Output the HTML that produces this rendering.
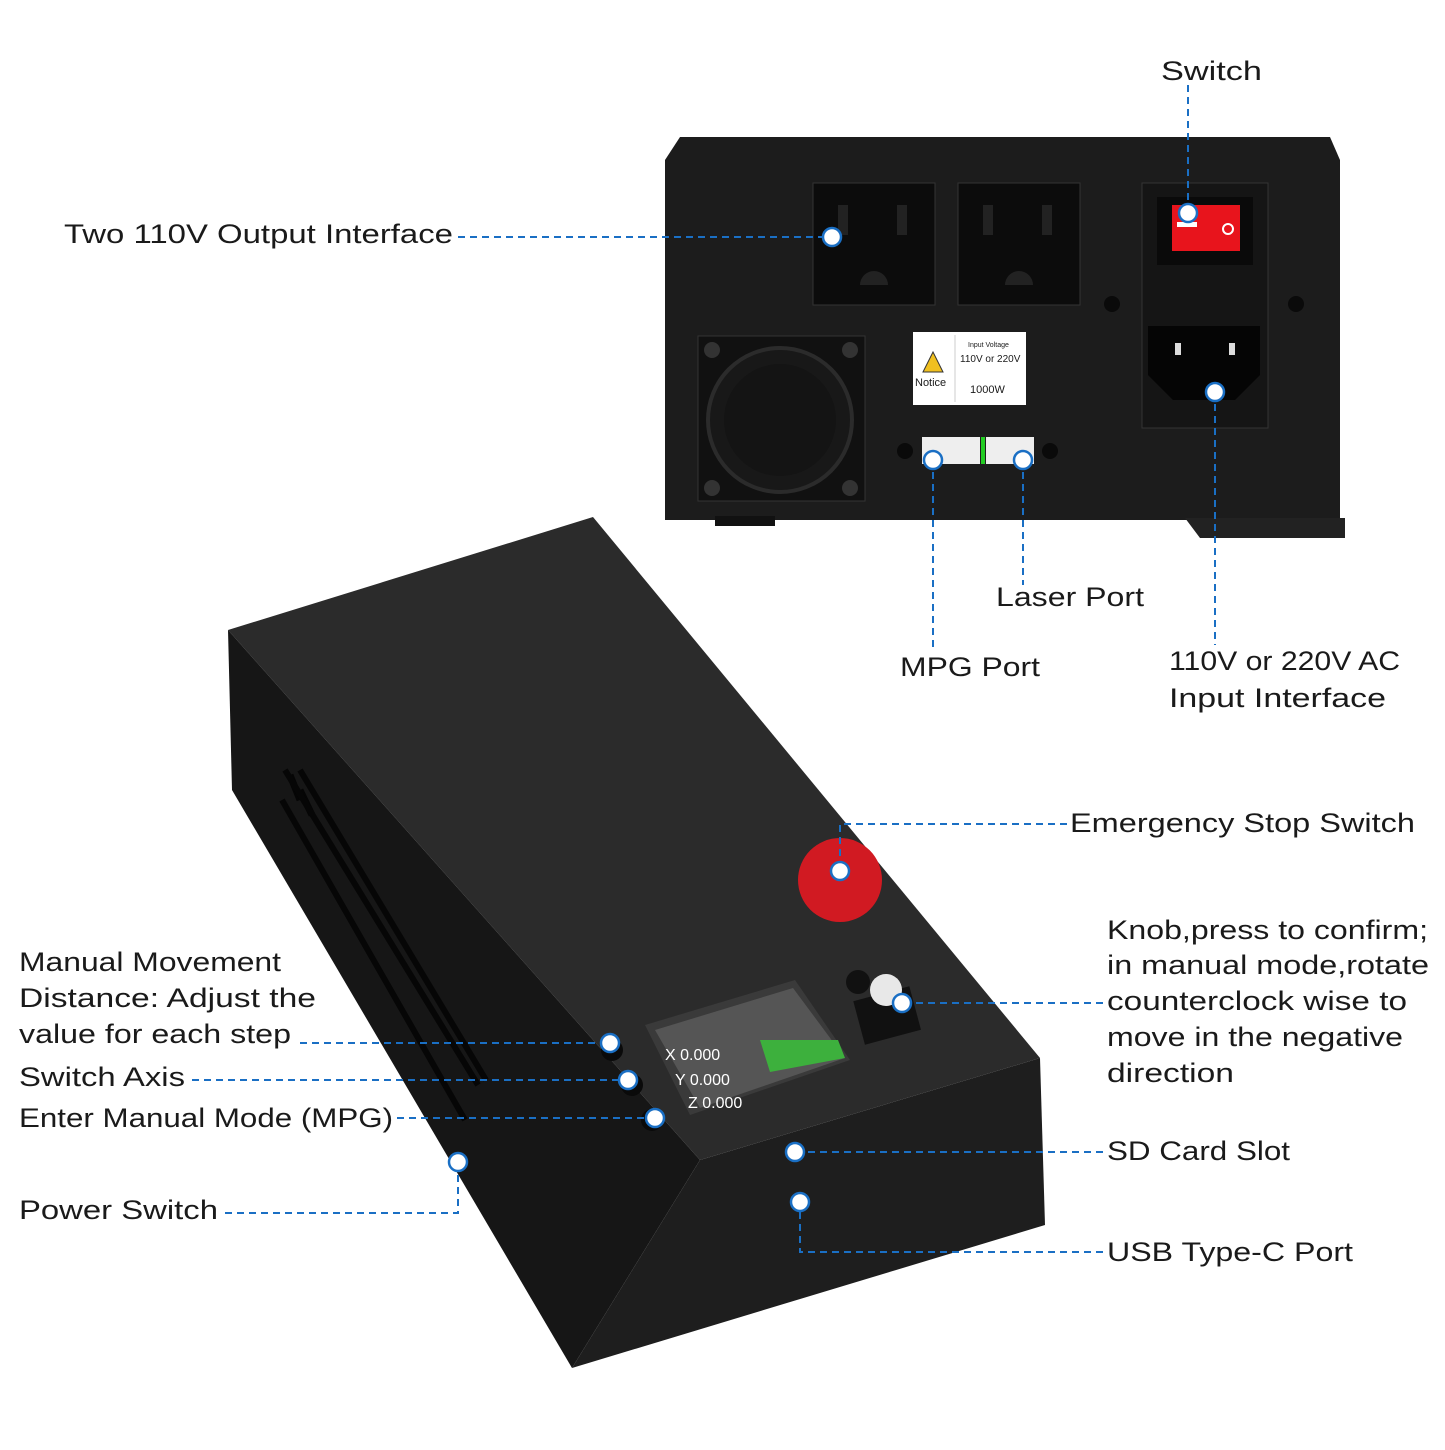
<!DOCTYPE html>
<html><head><meta charset="utf-8"><style>
html,body{margin:0;padding:0;background:#fff}
svg text{font-family:"Liberation Sans",sans-serif;font-size:27px;fill:#1a1a1a}
</style></head><body>
<svg width="1445" height="1445" viewBox="0 0 1445 1445" xmlns="http://www.w3.org/2000/svg">
<rect width="1445" height="1445" fill="#fff"/>
<!-- rear panel box -->
<path d="M680 137 L1330 137 L1340 160 L1340 520 L665 520 L665 160 Z" fill="#1c1c1c"/>
<path d="M1185 518 L1345 518 L1345 538 L1200 538 Z" fill="#222"/>
<rect x="715" y="516" width="60" height="10" fill="#111"/>
<rect x="813" y="183" width="122" height="122" fill="#0c0c0c" stroke="#333"/>
<rect x="958" y="183" width="122" height="122" fill="#0c0c0c" stroke="#333"/>
<rect x="838" y="205" width="10" height="30" fill="#222"/><rect x="897" y="205" width="10" height="30" fill="#222"/>
<rect x="983" y="205" width="10" height="30" fill="#222"/><rect x="1042" y="205" width="10" height="30" fill="#222"/>
<path d="M860 285 a14 14 0 0 1 28 0 Z" fill="#222"/><path d="M1005 285 a14 14 0 0 1 28 0 Z" fill="#222"/>
<rect x="1142" y="183" width="126" height="245" fill="#151515" stroke="#333"/>
<rect x="1157" y="197" width="96" height="68" fill="#0a0a0a"/>
<rect x="1172" y="205" width="68" height="46" fill="#e8141c"/>
<rect x="1177" y="222" width="20" height="5" fill="#fff"/><circle cx="1228" cy="229" r="5" fill="none" stroke="#fff" stroke-width="2"/>
<path d="M1148 326 L1260 326 L1260 375 L1235 400 L1173 400 L1148 375 Z" fill="#050505"/>
<rect x="1175" y="343" width="6" height="12" fill="#ddd"/><rect x="1229" y="343" width="6" height="12" fill="#ddd"/>
<rect x="698" y="336" width="167" height="165" fill="#111" stroke="#333"/>
<circle cx="780" cy="420" r="72" fill="#181818" stroke="#2b2b2b" stroke-width="4"/>
<circle cx="780" cy="420" r="56" fill="#141414"/>
<g fill="#333"><circle cx="712" cy="350" r="8"/><circle cx="850" cy="350" r="8"/><circle cx="712" cy="488" r="8"/><circle cx="850" cy="488" r="8"/></g>
<rect x="913" y="332" width="113" height="73" fill="#fff"/>
<line x1="955" y1="335" x2="955" y2="402" stroke="#ccc"/>
<text x="915" y="386" style="font-size:11px">Notice</text>
<text x="960" y="362" style="font-size:10px">110V or 220V</text>
<text x="970" y="393" style="font-size:11px">1000W</text>
<text x="968" y="347" style="font-size:7px">Input Voltage</text>
<path d="M933 352 L923 372 L943 372 Z" fill="#f0c020" stroke="#333"/>
<rect x="922" y="437" width="58" height="27" fill="#eee"/><rect x="986" y="437" width="48" height="27" fill="#eee"/>
<rect x="981" y="437" width="4" height="27" fill="#2c2"/>
<circle cx="905" cy="451" r="8" fill="#0a0a0a"/><circle cx="1050" cy="451" r="8" fill="#0a0a0a"/>
<circle cx="1112" cy="304" r="8" fill="#0a0a0a"/><circle cx="1296" cy="304" r="8" fill="#0a0a0a"/>
<!-- controller box -->
<path d="M228 630 L593 517 L1040 1058 L700 1160 Z" fill="#2b2b2b"/>
<path d="M228 630 L700 1160 L572 1368 L232 790 Z" fill="#161616"/>
<path d="M700 1160 L1040 1058 L1045 1225 L572 1368 Z" fill="#1e1e1e"/>
<g stroke="#050505" stroke-width="7">
<line x1="290" y1="775" x2="300" y2="800"/><line x1="300" y1="790" x2="312" y2="815"/>
</g>
<g stroke="#060606" stroke-width="6">
<path d="M285 770 L478 1085 M300 770 L486 1080 M282 800 L465 1120"/>
</g>
<circle cx="840" cy="880" r="42" fill="#d11a22"/>
<path d="M645 1025 L795 980 L850 1060 L690 1115 Z" fill="#3a3a3a"/>
<path d="M655 1030 L793 988 L845 1058 L700 1108 Z" fill="#555"/>
<path d="M760 1040 L838 1040 L845 1058 L770 1072 Z" fill="#3db03d"/>
<text x="665" y="1060" style="font-size:16px;fill:#fff">X 0.000</text>
<text x="675" y="1085" style="font-size:16px;fill:#fff">Y 0.000</text>
<text x="688" y="1108" style="font-size:16px;fill:#fff">Z 0.000</text>
<rect x="858" y="993" width="58" height="45" fill="#111" transform="rotate(-15 887 1015)"/>
<circle cx="886" cy="990" r="16" fill="#e8e8e8"/><circle cx="858" cy="982" r="12" fill="#111"/>
<circle cx="612" cy="1050" r="11" fill="#0a0a0a"/><circle cx="632" cy="1085" r="11" fill="#0a0a0a"/><circle cx="652" cy="1120" r="11" fill="#0a0a0a"/>
<!-- callouts -->
<g fill="none" stroke="#1a6fc4" stroke-width="2" stroke-dasharray="7 5">
<path d="M458 237 H832"/>
<path d="M1188 85 V213"/>
<path d="M933 460 V650"/>
<path d="M1023 460 V585"/>
<path d="M1215 392 V645"/>
<path d="M1067 824 H840 V870"/>
<path d="M1103 1003 H902"/>
<path d="M300 1043 H610"/>
<path d="M192 1080 H628"/>
<path d="M397 1118 H655"/>
<path d="M225 1213 H458 V1162"/>
<path d="M1103 1152 H795"/>
<path d="M1103 1252 H800 V1202"/>
</g>
<g fill="#fff" stroke="#1a6fc4" stroke-width="2.5">
<circle cx="832" cy="237" r="9"/><circle cx="1188" cy="213" r="9"/><circle cx="933" cy="460" r="9"/>
<circle cx="1023" cy="460" r="9"/><circle cx="1215" cy="392" r="9"/><circle cx="840" cy="871" r="9"/>
<circle cx="902" cy="1003" r="9"/><circle cx="610" cy="1043" r="9"/><circle cx="628" cy="1080" r="9"/>
<circle cx="655" cy="1118" r="9"/><circle cx="458" cy="1162" r="9"/><circle cx="795" cy="1152" r="9"/>
<circle cx="800" cy="1202" r="9"/>
</g>
<g>
<text x="1161" y="80" textLength="101" lengthAdjust="spacingAndGlyphs">Switch</text>
<text x="64" y="243" textLength="389" lengthAdjust="spacingAndGlyphs">Two 110V Output Interface</text>
<text x="996" y="606" textLength="148" lengthAdjust="spacingAndGlyphs">Laser Port</text>
<text x="900" y="676" textLength="140" lengthAdjust="spacingAndGlyphs">MPG Port</text>
<text x="1169" y="670" textLength="231" lengthAdjust="spacingAndGlyphs">110V or 220V AC</text>
<text x="1169" y="707" textLength="217" lengthAdjust="spacingAndGlyphs">Input Interface</text>
<text x="1070" y="832" textLength="345" lengthAdjust="spacingAndGlyphs">Emergency Stop Switch</text>
<text x="1107" y="939" textLength="321" lengthAdjust="spacingAndGlyphs">Knob,press to confirm;</text>
<text x="1107" y="974" textLength="322" lengthAdjust="spacingAndGlyphs">in manual mode,rotate</text>
<text x="1107" y="1010" textLength="300" lengthAdjust="spacingAndGlyphs">counterclock wise to</text>
<text x="1107" y="1046" textLength="296" lengthAdjust="spacingAndGlyphs">move in the negative</text>
<text x="1107" y="1082" textLength="127" lengthAdjust="spacingAndGlyphs">direction</text>
<text x="19" y="971" textLength="262" lengthAdjust="spacingAndGlyphs">Manual Movement</text>
<text x="19" y="1007" textLength="297" lengthAdjust="spacingAndGlyphs">Distance: Adjust the</text>
<text x="19" y="1043" textLength="272" lengthAdjust="spacingAndGlyphs">value for each step</text>
<text x="19" y="1086" textLength="166" lengthAdjust="spacingAndGlyphs">Switch Axis</text>
<text x="19" y="1127" textLength="374" lengthAdjust="spacingAndGlyphs">Enter Manual Mode (MPG)</text>
<text x="19" y="1219" textLength="199" lengthAdjust="spacingAndGlyphs">Power Switch</text>
<text x="1107" y="1160" textLength="183" lengthAdjust="spacingAndGlyphs">SD Card Slot</text>
<text x="1107" y="1261" textLength="246" lengthAdjust="spacingAndGlyphs">USB Type-C Port</text>
</g>
</svg>
</body></html>
